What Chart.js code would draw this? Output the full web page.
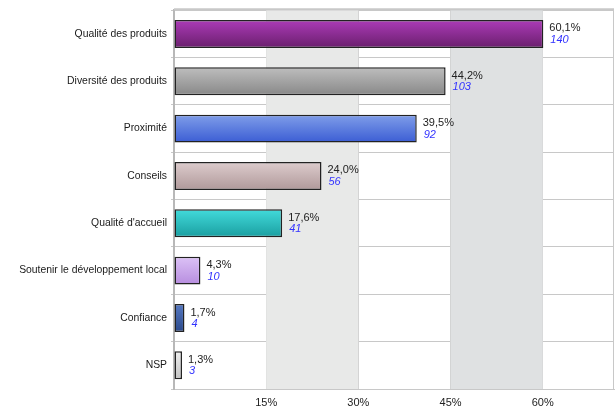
<!DOCTYPE html>
<html>
<head>
<meta charset="utf-8">
<script src="https://cdn.jsdelivr.net/npm/chart.js@4.4.1/dist/chart.umd.min.js"></script>
<style>
  html, body { margin: 0; padding: 0; background: #fff; }
  #wrap { width: 615px; height: 407px; }
</style>
</head>
<body>
<div id="wrap"><canvas id="chart"></canvas></div>
<script>
const categories = [
  'Qualité des produits',
  'Diversité des produits',
  'Proximité',
  'Conseils',
  "Qualité d'accueil",
  'Soutenir le développement local',
  'Confiance',
  'NSP'
];
const percents = [60.1, 44.2, 39.5, 24.0, 17.6, 4.3, 1.7, 1.3];
const counts = [140, 103, 92, 56, 41, 10, 4, 3];
const xTicks = [15, 30, 45, 60];

// top / bottom colour of each bar's gradient
const topColors = ['#ac3bb8', '#bebebe', '#809ee9', '#ddcccd', '#42dbdb', '#dcc2f6', '#5679c2', '#efefef'];
const bottomColors = ['#6a1f6d', '#888888', '#3b5dd4', '#b0999a', '#1a9ea0', '#b78ddf', '#2a488a', '#c2c2c2'];

const FONT = 'Liberation Sans, Arial, sans-serif';

function barFill(ctx) {
  const chart = ctx.chart;
  if (!chart.chartArea) return topColors[ctx.dataIndex];
  const yScale = chart.scales.y;
  const cy = yScale.getPixelForValue(ctx.dataIndex);
  const h = 14;
  const g = chart.ctx.createLinearGradient(0, cy - h, 0, cy + h);
  g.addColorStop(0, topColors[ctx.dataIndex]);
  g.addColorStop(1, bottomColors[ctx.dataIndex]);
  return g;
}

// shaded vertical bands behind the bars, plus the frame
const bands = {
  id: 'bands',
  beforeDatasetsDraw(chart) {
    const { ctx, chartArea, scales } = chart;
    const x = scales.x;
    const h = chartArea.bottom - chartArea.top;
    ctx.save();
    ctx.fillStyle = '#e8e9e8';
    ctx.fillRect(x.getPixelForValue(15), chartArea.top, x.getPixelForValue(30) - x.getPixelForValue(15), h);
    ctx.fillStyle = '#dfe1e2';
    ctx.fillRect(x.getPixelForValue(45), chartArea.top, x.getPixelForValue(60) - x.getPixelForValue(45), h);
    ctx.restore();
  },
  afterDraw(chart) {
    const { ctx, chartArea } = chart;
    ctx.save();
    ctx.strokeStyle = '#c8c8c8';
    ctx.lineWidth = 2;
    ctx.beginPath();
    ctx.moveTo(chartArea.left, chartArea.top - 1);
    ctx.lineTo(chartArea.right, chartArea.top - 1);
    ctx.stroke();
    ctx.lineWidth = 1;
    ctx.beginPath();
    ctx.moveTo(chartArea.right - 0.5, chartArea.top);
    ctx.lineTo(chartArea.right - 0.5, chartArea.bottom);
    ctx.stroke();
    ctx.restore();
  }
};

// percentage and count written after each bar
const valueLabels = {
  id: 'valueLabels',
  afterDatasetsDraw(chart) {
    const { ctx } = chart;
    const meta = chart.getDatasetMeta(0);
    ctx.save();
    ctx.textAlign = 'left';
    ctx.textBaseline = 'middle';
    meta.data.forEach((bar, i) => {
      const x = bar.x + 6;
      ctx.font = '11px ' + FONT;
      ctx.fillStyle = '#222';
      ctx.fillText(percents[i].toFixed(1).replace('.', ',') + '%', x, bar.y - 5.5);
      ctx.font = 'italic 11px ' + FONT;
      ctx.fillStyle = '#3333ff';
      ctx.fillText(String(counts[i]), x + 1, bar.y + 6);
    });
    ctx.restore();
  }
};

new Chart(document.getElementById('chart'), {
  type: 'bar',
  data: {
    labels: categories,
    datasets: [{
      data: percents,
      backgroundColor: barFill,
      borderColor: '#222',
      borderWidth: 1.5,
      borderSkipped: false,
      categoryPercentage: 1,
      barPercentage: 0.59
    }]
  },
  options: {
    indexAxis: 'y',
    responsive: true,
    maintainAspectRatio: false,
    animation: false,
    layout: { padding: { top: 1, right: 1, left: 0, bottom: 0 } },
    plugins: {
      legend: { display: false },
      tooltip: { enabled: false }
    },
    scales: {
      x: {
        min: 0,
        max: 71.6,
        afterFit(scale) { scale.height = 18; },
        afterBuildTicks(scale) {
          scale.ticks = [0].concat(xTicks).map(v => ({ value: v }));
        },
        ticks: {
          padding: 7,
          color: '#222',
          font: { family: FONT, size: 11 },
          callback: v => (v === 0 ? '' : v + '%')
        },
        grid: { color: '#c8c8c8', lineWidth: 1, tickLength: 0, drawTicks: false },
        border: { color: '#c8c8c8', width: 1 }
      },
      y: {
        afterFit(scale) { scale.width = 174; },
        ticks: {
          padding: 4,
          color: '#1a1a1a',
          font: { family: FONT, size: 10.4 }
        },
        grid: { color: '#c8c8c8', lineWidth: 1, tickLength: 3, offset: true },
        border: { color: '#b8b8b8', width: 2 }
      }
    }
  },
  plugins: [bands, valueLabels]
});
</script>
</body>
</html>
